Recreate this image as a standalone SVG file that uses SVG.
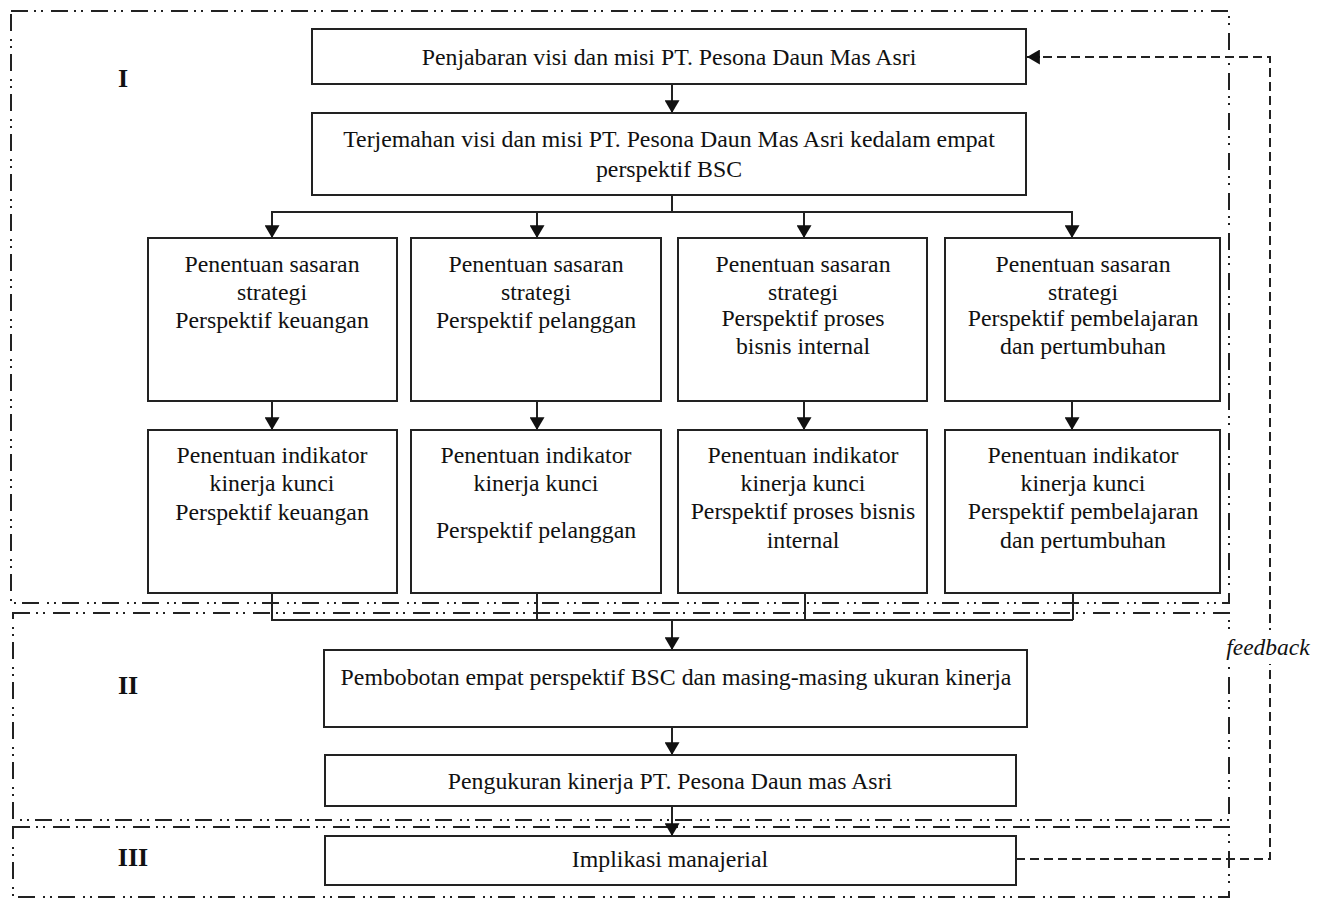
<svg xmlns="http://www.w3.org/2000/svg" width="1324" height="899" viewBox="0 0 1324 899">
<style>
.region{fill:none;stroke:#222;stroke-width:2;stroke-dasharray:17 6 2 5 2 8}
.box{fill:#fff;stroke:#222;stroke-width:2}
.t{font-family:"Liberation Serif","Times New Roman",serif;font-size:23.8px;fill:#111;text-anchor:middle;dominant-baseline:central}
.lbl{font-family:"Liberation Serif","Times New Roman",serif;font-size:26px;font-weight:bold;fill:#111;text-anchor:middle;dominant-baseline:central}
.fb{font-family:"Liberation Serif","Times New Roman",serif;font-size:23.5px;font-style:italic;fill:#111;text-anchor:middle;dominant-baseline:central}
.ln{fill:none;stroke:#222;stroke-width:2}
.dash{fill:none;stroke:#222;stroke-width:2;stroke-dasharray:9 5}
</style>
<defs>
<marker id="ah" viewBox="0 0 12 14" refX="12" refY="7" markerWidth="13" markerHeight="15" markerUnits="userSpaceOnUse" orient="auto">
<path d="M0,0 L12,7 L0,14 Z" fill="#111"/>
</marker>
</defs>
<rect width="1324" height="899" fill="#fff"/>
<g id="regions">
<rect class="region" x="11" y="11" width="1218" height="592"/>
<rect class="region" x="13" y="613" width="1216" height="207"/>
<rect class="region" x="13" y="827" width="1216" height="70"/>
<text class="lbl" x="123" y="78">I</text>
<text class="lbl" x="128" y="685">II</text>
<text class="lbl" x="133" y="857">III</text>
</g>
<g id="connectors">
<line class="ln" x1="672" y1="84" x2="672" y2="113" marker-end="url(#ah)"/>
<polyline class="ln" points="672,195 672,212"/>
<line class="ln" x1="271" y1="212" x2="1073" y2="212"/>
<line class="ln" x1="272" y1="212" x2="272" y2="238" marker-end="url(#ah)"/>
<line class="ln" x1="537" y1="212" x2="537" y2="238" marker-end="url(#ah)"/>
<line class="ln" x1="804" y1="212" x2="804" y2="238" marker-end="url(#ah)"/>
<line class="ln" x1="1072" y1="212" x2="1072" y2="238" marker-end="url(#ah)"/>
<line class="ln" x1="272" y1="401" x2="272" y2="430" marker-end="url(#ah)"/>
<line class="ln" x1="537" y1="401" x2="537" y2="430" marker-end="url(#ah)"/>
<line class="ln" x1="804" y1="401" x2="804" y2="430" marker-end="url(#ah)"/>
<line class="ln" x1="1072" y1="401" x2="1072" y2="430" marker-end="url(#ah)"/>
<polyline class="ln" points="272,593 272,620 1073,620"/>
<line class="ln" x1="537" y1="593" x2="537" y2="620"/>
<line class="ln" x1="805" y1="593" x2="805" y2="620"/>
<line class="ln" x1="1073" y1="593" x2="1073" y2="620"/>
<line class="ln" x1="672" y1="620" x2="672" y2="650" marker-end="url(#ah)"/>
<line class="ln" x1="672" y1="727" x2="672" y2="755" marker-end="url(#ah)"/>
<line class="ln" x1="672" y1="806" x2="672" y2="836" marker-end="url(#ah)"/>
<polyline class="dash" points="1016,859 1270,859 1270,57 1040,57"/>
<line class="ln" x1="1040" y1="57" x2="1027" y2="57" marker-end="url(#ah)"/>
<rect x="1222" y="630" width="90" height="34" fill="#fff"/>
<text class="fb" x="1268" y="647">feedback</text>
</g>
<g id="n1">
<rect class="box" x="312" y="29" width="714" height="55"/>
<text class="t" x="669" y="57">Penjabaran visi dan misi PT. Pesona Daun Mas Asri</text>
</g>
<g id="n2">
<rect class="box" x="312" y="113" width="714" height="82"/>
<text class="t" x="669" y="139">Terjemahan visi dan misi PT. Pesona Daun Mas Asri kedalam empat</text>
<text class="t" x="669" y="169">perspektif BSC</text>
</g>
<g id="a1">
<rect class="box" x="148" y="238" width="249" height="163"/>
<text class="t" x="272" y="264">Penentuan sasaran</text>
<text class="t" x="272" y="292">strategi</text>
<text class="t" x="272" y="320">Perspektif keuangan</text>
</g>
<g id="b1">
<rect class="box" x="411" y="238" width="250" height="163"/>
<text class="t" x="536" y="264">Penentuan sasaran</text>
<text class="t" x="536" y="292">strategi</text>
<text class="t" x="536" y="320">Perspektif pelanggan</text>
</g>
<g id="c1">
<rect class="box" x="678" y="238" width="249" height="163"/>
<text class="t" x="803" y="264">Penentuan sasaran</text>
<text class="t" x="803" y="292">strategi</text>
<text class="t" x="803" y="318">Perspektif proses</text>
<text class="t" x="803" y="346">bisnis internal</text>
</g>
<g id="d1">
<rect class="box" x="945" y="238" width="275" height="163"/>
<text class="t" x="1083" y="264">Penentuan sasaran</text>
<text class="t" x="1083" y="292">strategi</text>
<text class="t" x="1083" y="318">Perspektif pembelajaran</text>
<text class="t" x="1083" y="346">dan pertumbuhan</text>
</g>
<g id="a2">
<rect class="box" x="148" y="430" width="249" height="163"/>
<text class="t" x="272" y="455">Penentuan indikator</text>
<text class="t" x="272" y="483">kinerja kunci</text>
<text class="t" x="272" y="512">Perspektif keuangan</text>
</g>
<g id="b2">
<rect class="box" x="411" y="430" width="250" height="163"/>
<text class="t" x="536" y="455">Penentuan indikator</text>
<text class="t" x="536" y="483">kinerja kunci</text>
<text class="t" x="536" y="530">Perspektif pelanggan</text>
</g>
<g id="c2">
<rect class="box" x="678" y="430" width="249" height="163"/>
<text class="t" x="803" y="455">Penentuan indikator</text>
<text class="t" x="803" y="483">kinerja kunci</text>
<text class="t" x="803" y="511">Perspektif proses bisnis</text>
<text class="t" x="803" y="540">internal</text>
</g>
<g id="d2">
<rect class="box" x="945" y="430" width="275" height="163"/>
<text class="t" x="1083" y="455">Penentuan indikator</text>
<text class="t" x="1083" y="483">kinerja kunci</text>
<text class="t" x="1083" y="511">Perspektif pembelajaran</text>
<text class="t" x="1083" y="540">dan pertumbuhan</text>
</g>
<g id="n3">
<rect class="box" x="324" y="650" width="703" height="77"/>
<text class="t" x="676" y="677">Pembobotan empat perspektif BSC dan masing-masing ukuran kinerja</text>
</g>
<g id="n4">
<rect class="box" x="325" y="755" width="691" height="51"/>
<text class="t" x="670" y="781">Pengukuran kinerja PT. Pesona Daun mas Asri</text>
</g>
<g id="n5">
<rect class="box" x="325" y="836" width="691" height="49"/>
<text class="t" x="670" y="859">Implikasi manajerial</text>
</g>
</svg>
